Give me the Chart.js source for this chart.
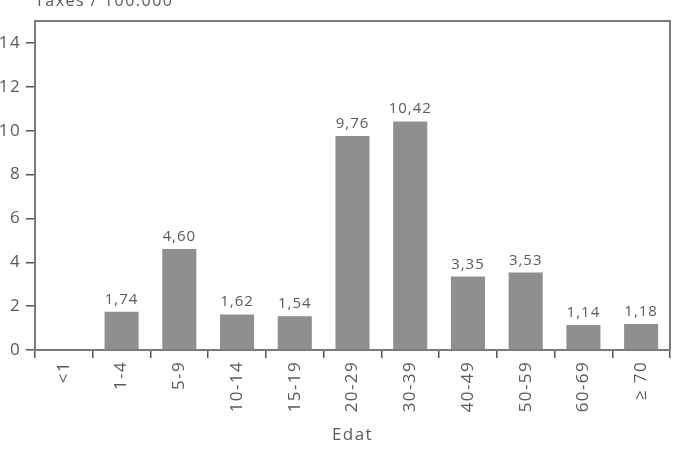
<!DOCTYPE html>
<html>
<head>
<meta charset="utf-8">
<script src="https://cdn.jsdelivr.net/npm/chart.js@4"></script>
<style>
  html, body { margin: 0; padding: 0; background: #fff; }
  canvas { display: block; }
</style>
</head>
<body>
<canvas id="taxes" width="675" height="466"></canvas>
<script>
const groups = ['<1', '1-4', '5-9', '10-14', '15-19', '20-29', '30-39', '40-49', '50-59', '60-69', '\u2265 70'];
const rates = [null, 1.74, 4.60, 1.62, 1.54, 9.76, 10.42, 3.35, 3.53, 1.14, 1.18];
const yTicks = [0, 2, 4, 6, 8, 10, 12, 14];
const yLabel = 'Taxes / 100.000';
const xLabel = 'Edat';

const axisColor = '#7a7a7a';
const textColor = '#5a5a5a';
const fontFamily = '"Open Sans", "DejaVu Sans", sans-serif';

const spacing = {
    id: 'spacing',
    beforeLayout(chart) { chart.ctx.letterSpacing = '1.4px'; },
    beforeDraw(chart) { chart.ctx.letterSpacing = '1.4px'; }
};

const frame = {
    id: 'frame',
    afterDraw(chart) {
        const { ctx, chartArea: a } = chart;
        ctx.save();
        ctx.strokeStyle = axisColor;
        ctx.lineWidth = 2;
        ctx.beginPath();
        ctx.moveTo(a.left, a.top);
        ctx.lineTo(a.right, a.top);
        ctx.lineTo(a.right, a.bottom);
        ctx.stroke();
        // y axis caption above the plot
        ctx.letterSpacing = '1.5px';
        ctx.fillStyle = textColor;
        ctx.font = '16px ' + fontFamily;
        ctx.textAlign = 'left';
        ctx.textBaseline = 'alphabetic';
        ctx.fillText(yLabel, a.left, a.top - 15);
        ctx.restore();
    }
};

const values = {
    id: 'values',
    afterDatasetsDraw(chart) {
        const { ctx } = chart;
        const meta = chart.getDatasetMeta(0);
        ctx.save();
        ctx.letterSpacing = '1px';
        ctx.fillStyle = textColor;
        ctx.font = '15px ' + fontFamily;
        ctx.textAlign = 'center';
        ctx.textBaseline = 'alphabetic';
        meta.data.forEach((bar, i) => {
            const v = rates[i];
            if (v == null) return;
            ctx.fillText(v.toFixed(2).replace('.', ','), bar.x, bar.y - 8);
        });
        ctx.restore();
    }
};

new Chart(document.getElementById('taxes'), {
    type: 'bar',
    data: {
        labels: groups,
        datasets: [{
            data: rates,
            backgroundColor: '#8f8f8f',
            borderWidth: 0,
            barPercentage: 0.59,
            categoryPercentage: 1
        }]
    },
    options: {
        responsive: false,
        animation: false,
        layout: { padding: { top: 21, right: 5, left: 0, bottom: 0 } },
        plugins: {
            legend: { display: false },
            tooltip: { enabled: false }
        },
        scales: {
            x: {
                afterFit: s => { s.height = 116; },
                grid: {
                    offset: true,
                    drawOnChartArea: false,
                    tickLength: 8,
                    color: '#555',
                    lineWidth: 1.5
                },
                border: { display: true, color: axisColor, width: 2 },
                ticks: {
                    autoSkip: false,
                    minRotation: 90,
                    maxRotation: 90,
                    padding: 3,
                    color: textColor,
                    font: { family: fontFamily, size: 17 }
                },
                title: {
                    display: true,
                    text: xLabel,
                    color: textColor,
                    font: { family: fontFamily, size: 17 },
                    padding: { top: 4, bottom: 21 }
                }
            },
            y: {
                min: 0,
                max: 15,
                afterFit: s => { s.width = 35; },
                afterBuildTicks: s => { s.ticks = yTicks.map(v => ({ value: v })); },
                grid: {
                    drawOnChartArea: false,
                    tickLength: 9,
                    color: '#555',
                    lineWidth: 1.5
                },
                border: { display: true, color: axisColor, width: 2 },
                ticks: {
                    padding: 5,
                    color: textColor,
                    font: { family: fontFamily, size: 17 }
                }
            }
        }
    },
    plugins: [spacing, frame, values]
});
</script>
</body>
</html>
